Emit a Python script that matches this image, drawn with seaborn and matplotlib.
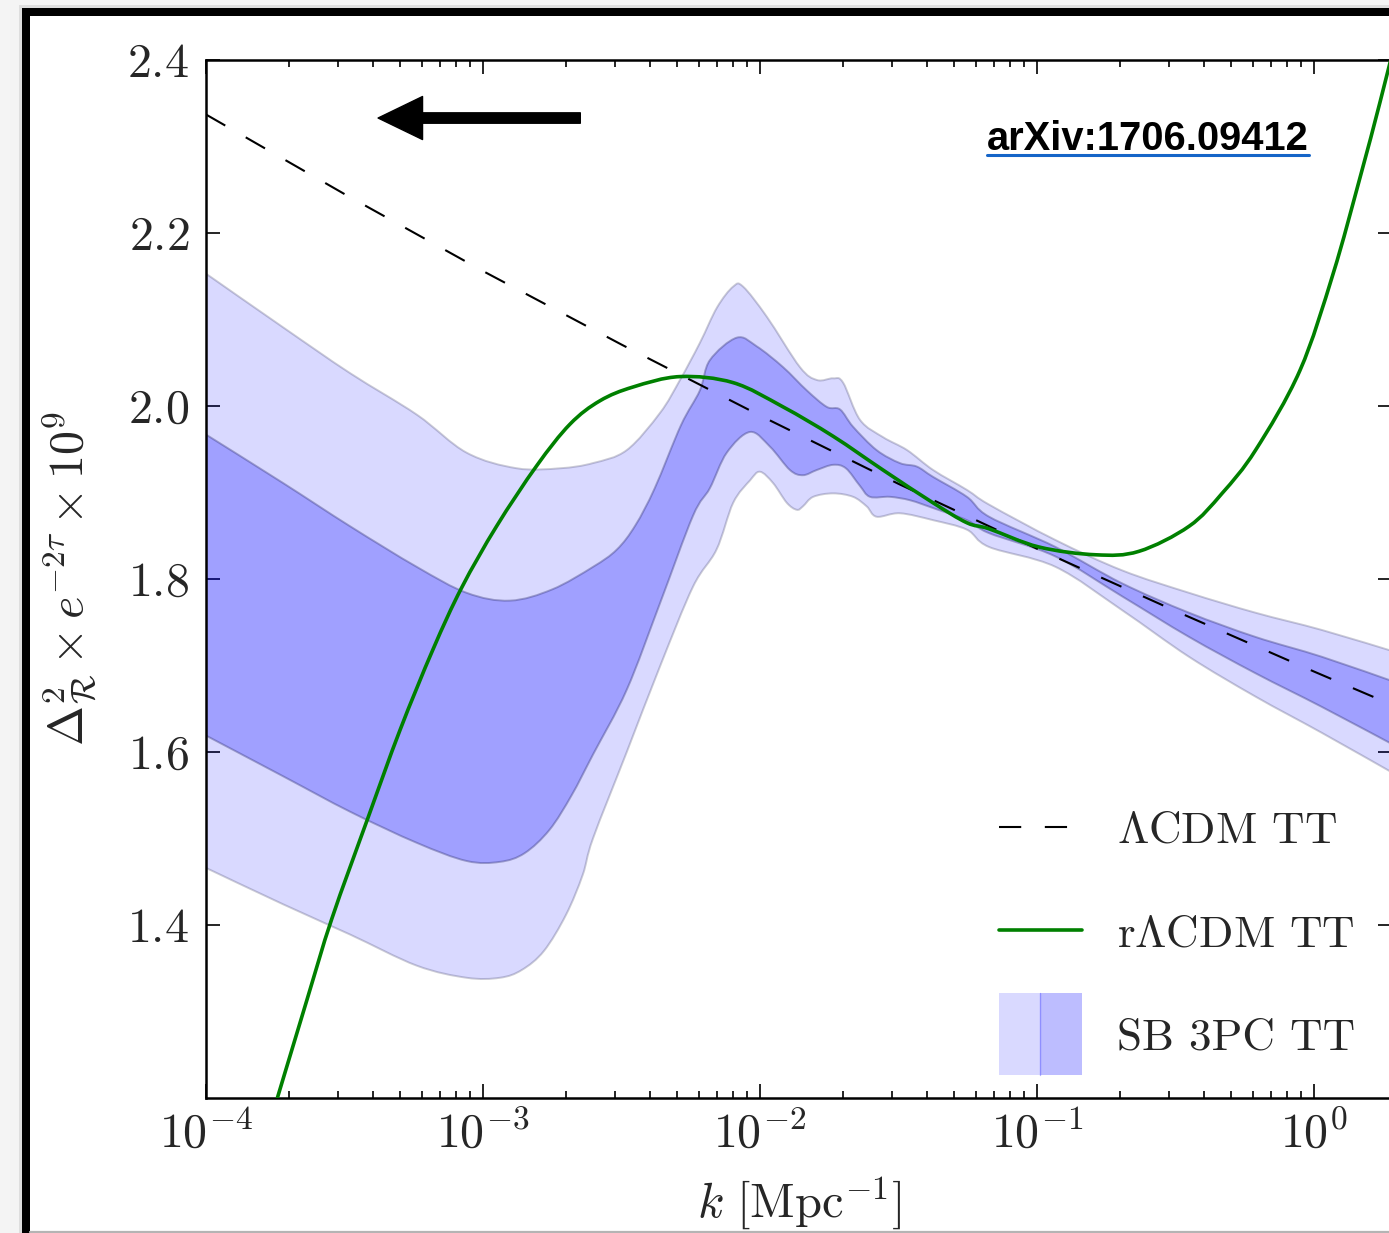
import numpy as np
import matplotlib
matplotlib.use("Agg")
import matplotlib.pyplot as plt
import seaborn as sns
from matplotlib.patches import Rectangle, Patch, PathPatch
from matplotlib.path import Path
from matplotlib.lines import Line2D
from matplotlib.legend_handler import HandlerBase
from matplotlib.ticker import LogLocator, NullFormatter

# ---------------------------------------------------------------------------
# Primordial power spectrum amplitude, Delta^2_R * exp(-2 tau) * 1e9, vs log10 k
# ---------------------------------------------------------------------------
lcdm_logk = [-4.0, -3.5, -3.0, -2.5, -2.0, -1.5, -1.0, -0.5, 0.0, 0.3]
lcdm_amp = [2.337, 2.245, 2.156, 2.071, 1.989, 1.910, 1.835, 1.763, 1.693, 1.652]

rlcdm_logk = [-3.78, -3.636, -3.546, -3.414, -3.300, -3.180, -3.077, -2.951, -2.806,
              -2.686, -2.578, -2.458, -2.289, -2.097, -1.917, -1.736, -1.556, -1.375,
              -1.253, -1.173, -0.993, -0.788, -0.632, -0.451, -0.332, -0.211, -0.051,
              0.069, 0.166, 0.238, 0.30]
rlcdm_amp = [1.16, 1.313, 1.407, 1.525, 1.625, 1.719, 1.790, 1.861, 1.931,
             1.979, 2.006, 2.022, 2.034, 2.027, 1.999, 1.965, 1.926, 1.888,
             1.865, 1.858, 1.837, 1.828, 1.832, 1.861, 1.899, 1.949, 2.041,
             2.153, 2.264, 2.351, 2.43]

# 95% band, upper edge
sb95_hi_logk = [-4.0, -3.722, -3.480, -3.239, -3.059, -2.878, -2.722, -2.603, -2.481,
                -2.361, -2.289, -2.217, -2.155, -2.097, -2.061, -1.975, -1.856, -1.794,
                -1.736, -1.700, -1.639, -1.556, -1.469, -1.375, -1.253, -1.173, -0.933,
                -0.693, -0.451, -0.211, 0.029, 0.30]
sb95_hi = [2.153, 2.091, 2.038, 1.990, 1.946, 1.928, 1.928, 1.934, 1.949,
           1.992, 2.030, 2.073, 2.114, 2.138, 2.138, 2.103, 2.045, 2.030,
           2.032, 2.027, 1.984, 1.964, 1.949, 1.926, 1.903, 1.886, 1.845,
           1.810, 1.784, 1.761, 1.741, 1.715]

# 68% band, upper edge
sb68_hi_logk = [-4.0, -3.722, -3.480, -3.239, -3.059, -2.903, -2.75, -2.603, -2.517,
                -2.45, -2.38, -2.285, -2.217, -2.181, -2.084, -2.012, -1.917, -1.831,
                -1.759, -1.711, -1.664, -1.579, -1.495, -1.434, -1.375, -1.253, -1.173,
                -0.933, -0.693, -0.451, -0.211, 0.029, 0.30]
sb68_hi = [1.967, 1.911, 1.861, 1.814, 1.784, 1.775, 1.788, 1.814, 1.834,
           1.862, 1.905, 1.978, 2.018, 2.053, 2.079, 2.069, 2.045, 2.018,
           1.999, 1.996, 1.976, 1.949, 1.934, 1.930, 1.918, 1.895, 1.872,
           1.837, 1.795, 1.761, 1.733, 1.710, 1.680]

# 68% band, lower edge
sb68_lo_logk = [-4.0, -3.722, -3.480, -3.239, -3.059, -2.939, -2.85, -2.76, -2.68,
                -2.603, -2.481, -2.361, -2.242, -2.181, -2.120, -2.036, -1.964, -1.892,
                -1.845, -1.795, -1.736, -1.69, -1.64, -1.603, -1.531, -1.458, -1.375,
                -1.253, -1.173, -0.933, -0.693, -0.451, -0.211, 0.029, 0.30]
sb68_lo = [1.619, 1.572, 1.531, 1.495, 1.474, 1.473, 1.483, 1.510, 1.550,
           1.597, 1.672, 1.772, 1.873, 1.905, 1.946, 1.970, 1.953, 1.926,
           1.920, 1.926, 1.932, 1.928, 1.908, 1.895, 1.895, 1.891, 1.882,
           1.868, 1.853, 1.826, 1.780, 1.733, 1.691, 1.652, 1.606]

# 95% band, lower edge
sb95_lo_logk = [-4.0, -3.722, -3.480, -3.239, -3.059, -2.939, -2.86, -2.78, -2.70,
                -2.64, -2.603, -2.481, -2.361, -2.242, -2.157, -2.097, -2.036, -2.0,
                -1.953, -1.903, -1.867, -1.845, -1.808, -1.736, -1.664, -1.615, -1.579,
                -1.495, -1.375, -1.253, -1.173, -0.933, -0.693, -0.451, -0.211, 0.029,
                0.30]
sb95_lo = [1.466, 1.424, 1.389, 1.353, 1.339, 1.339, 1.348, 1.370, 1.412,
           1.458, 1.500, 1.600, 1.699, 1.791, 1.834, 1.888, 1.914, 1.924,
           1.911, 1.888, 1.880, 1.884, 1.895, 1.899, 1.895, 1.884, 1.872,
           1.876, 1.868, 1.857, 1.837, 1.814, 1.764, 1.710, 1.664, 1.622,
           1.573]

series_labels = [r"$\Lambda$CDM TT", r"r$\Lambda$CDM TT", "SB 3PC TT"]
x_ticks = [1e-4, 1e-3, 1e-2, 1e-1, 1e0]
x_ticklabels = [r"$10^{-4}$", r"$10^{-3}$", r"$10^{-2}$", r"$10^{-1}$", r"$10^{0}$"]
y_ticks = [1.4, 1.6, 1.8, 2.0, 2.2, 2.4]
y_ticklabels = [r"$1.4$", r"$1.6$", r"$1.8$", r"$2.0$", r"$2.2$", r"$2.4$"]

GREEN = "#008000"
LIGHT = (0.0, 0.0, 1.0, 0.15)
DARK = (0.0, 0.0, 1.0, 0.26)

# ---------------------------------------------------------------------------
sns.set_style("ticks")
plt.rcParams.update({
    "font.family": ["cmr10", "DejaVu Serif"],
    "mathtext.fontset": "cm",
    "axes.unicode_minus": False,
    "axes.formatter.use_mathtext": True,
    "lines.scale_dashes": False,
})

W, H = 1389, 1233


def fx(px):
    return px / W


def fy(py):
    return 1 - py / H


def smooth_curve(logk, amp):
    """Cubic Bezier path through the samples (Catmull-Rom tangents in log k)."""
    p = np.column_stack([logk, amp]).astype(float)
    n = len(p)
    verts = [p[0]]
    codes = [Path.MOVETO]
    for i in range(n - 1):
        p0 = p[i - 1] if i > 0 else p[i]
        p1, p2 = p[i], p[i + 1]
        p3 = p[i + 2] if i + 2 < n else p[i + 1]
        verts += [p1 + (p2 - p0) / 6.0, p2 - (p3 - p1) / 6.0, p2]
        codes += [Path.CURVE4] * 3
    verts = np.array(verts)
    verts[:, 0] = 10.0 ** verts[:, 0]
    return verts, codes


def band_path(hi_logk, hi, lo_logk, lo):
    v_hi, c_hi = smooth_curve(hi_logk, hi)
    v_lo, _ = smooth_curve(lo_logk, lo)
    v_lo = v_lo[::-1]
    verts = np.vstack([v_hi, v_lo, v_hi[:1]])
    codes = c_hi + [Path.LINETO] + [Path.CURVE4] * (len(v_lo) - 1) + [Path.CLOSEPOLY]
    return Path(verts, codes)


class TwoToneSquare(HandlerBase):
    """Legend key: a square split into the 95% and 68% band colours."""

    def create_artists(self, legend, orig_handle, xdescent, ydescent,
                       width, height, fontsize, trans):
        side = width
        cy = height / 2.0 - ydescent
        y0 = cy - side / 2.0
        left = Rectangle((-xdescent, y0), width / 2.0, side, facecolor=LIGHT,
                         edgecolor="none", transform=trans)
        right = Rectangle((-xdescent + width / 2.0, y0), width / 2.0, side,
                          facecolor=DARK, edgecolor="none", transform=trans)
        seam = Line2D([-xdescent + width / 2.0] * 2, [y0, y0 + side],
                      color=(0.35, 0.35, 1.0, 0.45), lw=1.0, transform=trans)
        return [left, right, seam]


fig = plt.figure(figsize=(W / 100, H / 100), dpi=100)
fig.patch.set_facecolor("#f4f4f4")

# page frame around the plot
fig.add_artist(Rectangle((fx(19), fy(1300)), fx(1500) - fx(19), fy(5) - fy(1300),
                         transform=fig.transFigure, facecolor="#dedede",
                         edgecolor="none", zorder=-12))
fig.add_artist(Rectangle((fx(22), fy(1300)), fx(1500) - fx(22), fy(8) - fy(1300),
                         transform=fig.transFigure, facecolor="black",
                         edgecolor="none", zorder=-11))
fig.add_artist(Rectangle((fx(30), fy(1300)), fx(1500) - fx(30), fy(16) - fy(1300),
                         transform=fig.transFigure, facecolor="white",
                         edgecolor="none", zorder=-10))
fig.add_artist(Line2D([fx(30), fx(1389)], [fy(1231.5), fy(1231.5)],
                      transform=fig.transFigure, color="#b4b4b4", lw=1.6, zorder=-9))

ax = fig.add_axes([fx(206), fy(1098), fx(1392) - fx(206), fy(60) - fy(1098)])
ax.set_xscale("log")

# confidence bands
ax.add_patch(PathPatch(band_path(sb95_hi_logk, sb95_hi, sb95_lo_logk, sb95_lo),
                       facecolor=LIGHT, edgecolor=(0.15, 0.15, 0.3, 0.24), lw=1.4,
                       zorder=1))
ax.add_patch(PathPatch(band_path(sb68_hi_logk, sb68_hi, sb68_lo_logk, sb68_lo),
                       facecolor=DARK, edgecolor=(0.2, 0.2, 0.45, 0.38), lw=1.4,
                       zorder=2))

# LCDM power law
sns.lineplot(x=10.0 ** np.asarray(lcdm_logk), y=lcdm_amp, ax=ax, color="black",
             lw=1.5, sort=False, zorder=3)
ax.lines[-1].set_dashes([16, 17])

# rLCDM
v_g, c_g = smooth_curve(rlcdm_logk, rlcdm_amp)
ax.add_patch(PathPatch(Path(v_g, c_g), fill=False, edgecolor=GREEN, lw=2.6,
                       zorder=4))

ax.set_xlim(1e-4, 1.912)
ax.set_ylim(1.2, 2.4)

ax.set_xticks(x_ticks, labels=x_ticklabels)
ax.xaxis.set_minor_locator(LogLocator(base=10, subs=np.arange(2, 10), numticks=50))
ax.xaxis.set_minor_formatter(NullFormatter())
ax.set_yticks(y_ticks, labels=y_ticklabels)

for s in ax.spines.values():
    s.set_linewidth(1.8)
    s.set_color("black")
ax.tick_params(which="both", direction="in", top=True, right=True,
               color="black", width=1.2)
ax.tick_params(which="major", length=10, labelsize=34.5)
ax.tick_params(which="minor", length=5)
ax.tick_params(axis="x", which="major", pad=9)
ax.tick_params(axis="y", which="major", pad=12)

ax.set_xlabel(r"$k\ [\mathrm{Mpc}^{-1}]$", fontsize=35)
ax.set_ylabel(r"$\Delta^2_{\mathcal{R}}\times e^{-2\tau}\times 10^9$", fontsize=34.5)
ax.xaxis.set_label_coords(0.5, -0.074)
ax.yaxis.set_label_coords(-0.089, 0.5)

# legend
band_key = Patch(facecolor=DARK)
handles = [
    Line2D([], [], color="black", lw=1.5, dashes=(16, 17)),
    Line2D([], [], color=GREEN, lw=2.6),
    band_key,
]
ax.legend(handles, series_labels, handler_map={band_key: TwoToneSquare()},
          loc="lower right", bbox_to_anchor=(fx(1355), fy(1059)),
          bbox_transform=fig.transFigure, frameon=False, fontsize=32.5,
          handlelength=1.82, handleheight=0.7, handletextpad=0.78,
          labelspacing=1.40, borderpad=0, borderaxespad=0)

# direction arrow
ax.annotate("", xy=(0.1451, 0.9441), xytext=(0.3156, 0.9441), xycoords="axes fraction",
            arrowprops=dict(arrowstyle="simple,head_length=3.2,head_width=3.1,tail_width=0.75",
                            mutation_scale=10, color="black", shrinkA=0, shrinkB=0))

# reference tag
tag = fig.text(fx(987), fy(150), "arXiv:1706.09412", fontfamily="Liberation Sans",
               fontweight="bold", fontsize=28.7, va="baseline", ha="left", color="black")
fig.canvas.draw()
bb = tag.get_window_extent()
fig.add_artist(Line2D([bb.x0 / W, bb.x1 / W], [fy(154.5), fy(154.5)],
                      transform=fig.transFigure, color="#1565c8", lw=2.2))

fig.savefig("out.png", dpi=100, facecolor=fig.get_facecolor())
